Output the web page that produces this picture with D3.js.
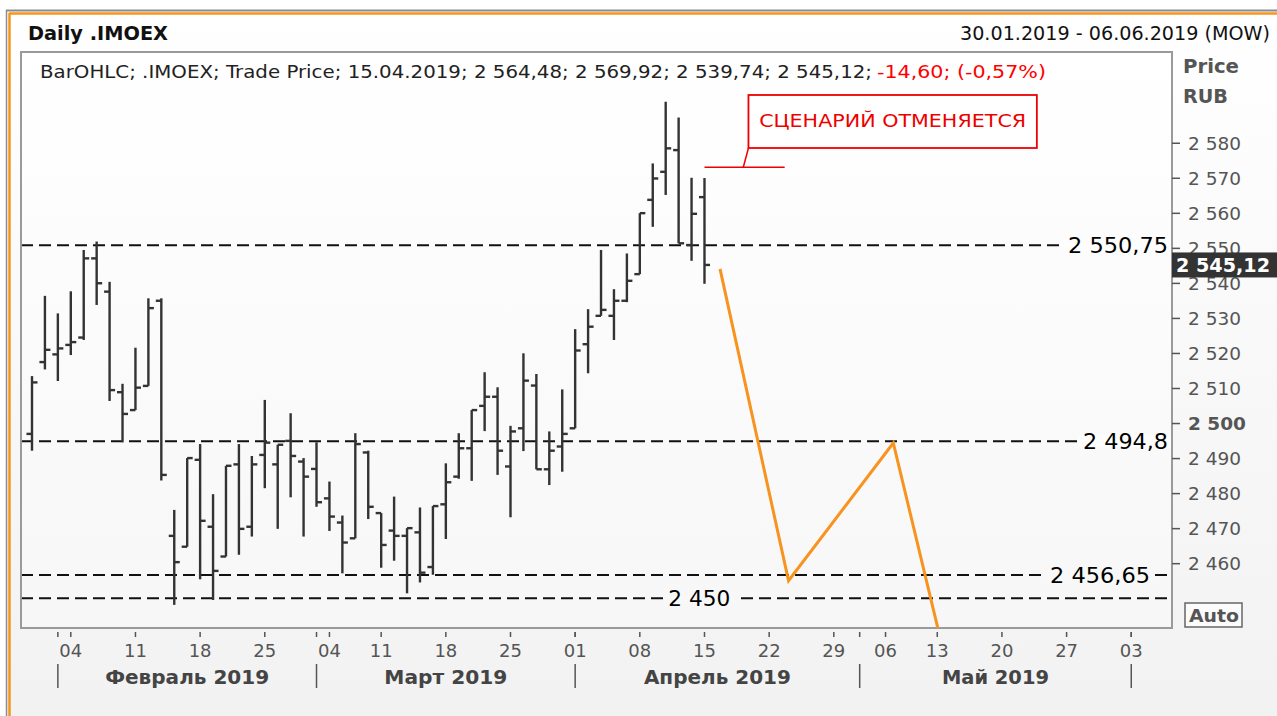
<!DOCTYPE html>
<html><head><meta charset="utf-8">
<script src="https://cdn.jsdelivr.net/npm/d3@7"></script>
<style>
html,body{margin:0;padding:0;background:#fff;}
svg{display:block;font-family:"DejaVu Sans",Verdana,sans-serif;}
</style></head><body>
<svg id="c" width="1277" height="716"></svg>
<script>
// ---------------- DATA ----------------
const barDates = ["2019-01-30","2019-01-31","2019-02-01","2019-02-04","2019-02-05","2019-02-06","2019-02-07","2019-02-08",
"2019-02-11","2019-02-12","2019-02-13","2019-02-14","2019-02-15","2019-02-18","2019-02-19","2019-02-20","2019-02-21","2019-02-22",
"2019-02-25","2019-02-26","2019-02-27","2019-02-28","2019-03-01","2019-03-04","2019-03-05","2019-03-06","2019-03-07",
"2019-03-11","2019-03-12","2019-03-13","2019-03-14","2019-03-15","2019-03-18","2019-03-19","2019-03-20","2019-03-21","2019-03-22",
"2019-03-25","2019-03-26","2019-03-27","2019-03-28","2019-03-29","2019-04-01","2019-04-02","2019-04-03","2019-04-04","2019-04-05",
"2019-04-08","2019-04-09","2019-04-10","2019-04-11","2019-04-12","2019-04-15"];
const opens  = [2496.9,2517.4,2519.6,2522.3,2524.4,2547.0,2537.5,2508.8,2503.7,2510.6,2534.9,2467.8,2464.7,2489.5,2470.4,2461.9,2488.2,2470.4,
2490.9,2488.2,2494.9,2489.0,2486.9,2478.5,2471.6,2467.1,2491.6,2474.3,2469.3,2467.8,2468.8,2458.9,2476.8,2484.7,2492.8,2504.9,2507.5,
2487.6,2498.5,2510.7,2486.8,2493.3,2498.5,2522.5,2530.6,2530.6,2534.9,2542.5,2563.7,2571.7,2577.9,2550.8,2564.48];
const highs  = [2513.4,2536.3,2531.3,2537.6,2549.4,2551.8,2540.3,2511.2,2521.5,2535.6,2535.6,2475.2,2490.0,2494.0,2479.7,2487.8,2494.0,2490.6,
2506.6,2493.8,2502.8,2490.0,2494.5,2483.3,2473.6,2497.1,2492.1,2474.3,2479.0,2470.0,2475.9,2476.3,2488.5,2497.1,2503.7,2514.5,2510.2,
2499.2,2519.9,2514.0,2497.6,2509.6,2526.8,2532.5,2549.4,2538.2,2548.4,2559.9,2574.1,2591.7,2587.2,2570.0,2569.92];
const lows   = [2492.1,2515.3,2512.0,2519.4,2523.7,2533.7,2506.3,2494.5,2503.7,2510.6,2483.6,2448.1,2464.7,2455.4,2449.5,2461.9,2462.4,2467.6,
2481.4,2469.8,2478.8,2467.6,2476.1,2469.2,2457.1,2467.1,2472.6,2458.7,2460.7,2451.4,2454.5,2456.7,2466.9,2484.1,2483.5,2497.7,2485.2,
2473.1,2492.0,2486.8,2482.3,2486.1,2498.5,2514.2,2530.6,2523.7,2534.5,2542.5,2556.0,2565.1,2551.3,2546.3,2539.74];
const closes = [2511.6,2520.9,2521.3,2523.1,2547.0,2539.9,2509.4,2502.6,2510.1,2532.8,2485.2,2460.3,2490.0,2472.1,2457.8,2487.8,2469.8,2488.2,
2494.4,2493.8,2490.6,2484.7,2477.4,2473.3,2465.9,2494.0,2476.1,2465.2,2467.8,2470.0,2457.3,2476.3,2483.1,2492.8,2503.7,2507.5,2492.1,
2497.6,2512.1,2486.8,2492.1,2496.9,2520.7,2527.5,2532.3,2534.9,2540.6,2559.9,2569.8,2578.4,2551.3,2559.72,2545.12];

const holidays = ["2019-03-08","2019-05-01","2019-05-09"];
const rangeStart = "2019-01-30", rangeEnd = "2019-06-06";

const yTickValues = [2460,2470,2480,2490,2500,2510,2520,2530,2540,2550,2560,2570,2580];
const xTickDates  = ["2019-02-04","2019-02-11","2019-02-18","2019-02-25","2019-03-04","2019-03-11","2019-03-18","2019-03-25",
"2019-04-01","2019-04-08","2019-04-15","2019-04-22","2019-04-29","2019-05-06","2019-05-13","2019-05-20","2019-05-27","2019-06-03"];
const xTickLabels = ["04","11","18","25","04","11","18","25","01","08","15","22","29","06","13","20","27","03"];
const monthStarts = ["2019-02-01","2019-03-01","2019-04-01","2019-05-02","2019-06-03"];
const monthLabels = ["Февраль 2019","Март 2019","Апрель 2019","Май 2019"];

const levelValues = [2550.75, 2494.8, 2456.65, 2450];
const levelLabels = ["2 550,75","2 494,8","2 456,65","2 450"];

// projected path (orange) : trading-day position, price
const projPos  = [53.2, 58.5, 66.6, 70.4];
const projVals = [2544.0, 2455.0, 2494.3, 2436.0];

// callout
const calloutText = "СЦЕНАРИЙ ОТМЕНЯЕТСЯ";
const calloutLevel = 2573;

const lastPrice = 2545.12;
const lastLabel = "2 545,12";
const titleText = "Daily .IMOEX";
const rangeText = "30.01.2019 - 06.06.2019 (MOW)";
const legendBlack = "BarOHLC; .IMOEX; Trade Price;  15.04.2019; 2 564,48; 2 569,92; 2 539,74; 2 545,12;";
const legendRed = "-14,60; (-0,57%)";

// ---------------- CALENDAR ----------------
const parse = d3.timeParse("%Y-%m-%d"), fmt = d3.timeFormat("%Y-%m-%d");
const hol = new Set(holidays);
const tradingDays = d3.timeDay.range(parse(rangeStart), d3.timeDay.offset(parse(rangeEnd),1))
  .filter(d => d.getDay()!==0 && d.getDay()!==6 && !hol.has(fmt(d))).map(fmt);
const idx = new Map(tradingDays.map((d,i)=>[d,i]));

// ---------------- LAYOUT ----------------
const P = {l:21, t:52, r:1172, b:628};
const x = d3.scaleLinear().domain([-0.85, tradingDays.length - 1 + 0.15]).range([P.l, P.r]);
const y = d3.scaleLinear().domain([2441.5, 2605.9]).range([P.b, P.t]);

const svg = d3.select("#c");
const defs = svg.append("defs");
const g1 = defs.append("linearGradient").attr("id","panel").attr("x1",0).attr("y1",0).attr("x2",0).attr("y2",1);
g1.append("stop").attr("offset","0%").attr("stop-color","#ffffff");
g1.append("stop").attr("offset","100%").attr("stop-color","#f2f2f2");
const g2 = defs.append("linearGradient").attr("id","plotbg").attr("x1",0).attr("y1",0).attr("x2",0).attr("y2",1);
g2.append("stop").attr("offset","0%").attr("stop-color","#ffffff");
g2.append("stop").attr("offset","100%").attr("stop-color","#f7f7f7");
defs.append("clipPath").attr("id","clip").append("rect")
  .attr("x",P.l).attr("y",P.t).attr("width",P.r-P.l).attr("height",P.b-P.t);

svg.append("rect").attr("width",1277).attr("height",716).attr("fill","#fff");
svg.append("rect").attr("x",7).attr("y",11).attr("width",1270).attr("height",705).attr("fill","url(#panel)");
// window frame
svg.append("line").attr("x1",6.5).attr("x2",6.5).attr("y1",10).attr("y2",716).attr("stroke","#8c8c8c").attr("stroke-width",1.5);
svg.append("line").attr("x1",6).attr("x2",1277).attr("y1",10.5).attr("y2",10.5).attr("stroke","#8c8c8c").attr("stroke-width",2);
svg.append("line").attr("x1",9.5).attr("x2",9.5).attr("y1",13).attr("y2",716).attr("stroke","#f7941d").attr("stroke-width",2.5);
svg.append("line").attr("x1",9).attr("x2",1277).attr("y1",13.5).attr("y2",13.5).attr("stroke","#f7941d").attr("stroke-width",2.5);

function fit(sel, w){ return sel.attr("textLength", w).attr("lengthAdjust","spacingAndGlyphs"); }

// header
fit(svg.append("text").attr("x",28).attr("y",40).attr("font-size",19).attr("font-weight","bold").attr("fill","#111").text(titleText),140);
fit(svg.append("text").attr("x",960).attr("y",40).attr("font-size",19).attr("fill","#111").text(rangeText),310);

// plot background
svg.append("rect").attr("x",P.l).attr("y",P.t).attr("width",P.r-P.l).attr("height",P.b-P.t)
  .attr("fill","url(#plotbg)");

// legend
fit(svg.append("text").attr("x",40).attr("y",78).attr("font-size",18.5).attr("fill","#222").text(legendBlack),832);
fit(svg.append("text").attr("x",877).attr("y",78).attr("font-size",18.5).attr("fill","#f00").text(legendRed),169);

// level lines
const plot = svg.append("g").attr("clip-path","url(#clip)");
plot.selectAll("line.lvl").data(levelValues).join("line").attr("class","lvl")
  .attr("x1",P.l).attr("x2",P.r).attr("y1",d=>y(d)).attr("y2",d=>y(d))
  .attr("stroke","#111").attr("stroke-width",2).attr("stroke-dasharray","12,6");

// OHLC bars
const bars = barDates.map((d,i)=>({d, o:opens[i], h:highs[i], l:lows[i], c:closes[i]}));
const bg = plot.append("g").attr("stroke","#333").attr("stroke-width",2.4);
bg.selectAll("line.hl").data(bars).join("line").attr("class","hl")
  .attr("x1",d=>x(idx.get(d.d))).attr("x2",d=>x(idx.get(d.d)))
  .attr("y1",d=>y(d.h)).attr("y2",d=>y(d.l));
bg.selectAll("line.o").data(bars).join("line").attr("class","o")
  .attr("x1",d=>x(idx.get(d.d))-5.5).attr("x2",d=>x(idx.get(d.d)))
  .attr("y1",d=>y(d.o)).attr("y2",d=>y(d.o));
bg.selectAll("line.c").data(bars).join("line").attr("class","c")
  .attr("x1",d=>x(idx.get(d.d))).attr("x2",d=>x(idx.get(d.d))+5.5)
  .attr("y1",d=>y(d.c)).attr("y2",d=>y(d.c));

// level labels
const lblPlace = [{at:P.r-4, w:100},{at:P.r-4, w:85},{at:P.r-22, w:100},{at:x(51.6)+31, w:62}];
levelValues.forEach((v,i)=>{
  const x0 = lblPlace[i].at - lblPlace[i].w;
  svg.append("rect").attr("x",x0-5).attr("y",y(v)-6).attr("width",lblPlace[i].w+10).attr("height",12)
    .attr("fill", i<2 ? "#fdfdfd" : "#f8f8f8");
  fit(svg.append("text").attr("font-size",22).attr("fill","#000")
    .attr("x",x0).attr("y",y(v)+8).text(levelLabels[i]), lblPlace[i].w);
});

// plot frame
svg.append("rect").attr("x",P.l).attr("y",P.t).attr("width",P.r-P.l).attr("height",P.b-P.t)
  .attr("fill","none").attr("stroke","#9a9a9a").attr("stroke-width",2);

// projection
svg.append("g").attr("clip-path","url(#clip)").append("path")
  .datum(projPos.map((p,i)=>[p,projVals[i]]))
  .attr("d", d3.line().x(d=>x(d[0])).y(d=>y(d[1])))
  .attr("fill","none").attr("stroke","#f7931e").attr("stroke-width",3).attr("stroke-linejoin","miter");

// callout
const cy = y(calloutLevel);
svg.append("line").attr("x1",x(52)).attr("x2",x(58.2)).attr("y1",cy).attr("y2",cy).attr("stroke","#e00").attr("stroke-width",1.5);
const boxL = x(55.4), boxR = x(77.7), boxT = 95, boxB = 148;
svg.append("line").attr("x1",x(55.0)).attr("y1",cy).attr("x2",boxL).attr("y2",boxB).attr("stroke","#e00").attr("stroke-width",1.5);
svg.append("rect").attr("x",boxL).attr("y",boxT).attr("width",boxR-boxL).attr("height",boxB-boxT)
  .attr("fill","#fff").attr("stroke","#e00").attr("stroke-width",1.8);
fit(svg.append("text").attr("x",(boxL+boxR)/2 - 133.5).attr("y",127).attr("font-size",18).attr("fill","#e00").text(calloutText),267);

// y axis
const nf = d3.formatLocale({decimal:",", thousands:"\u00a0", grouping:[3], currency:["",""]}).format(",");
const yAxis = svg.append("g").attr("transform",`translate(${P.r},0)`)
  .call(d3.axisRight(y).tickValues(yTickValues).tickSize(8).tickPadding(8).tickFormat(nf));
yAxis.select(".domain").remove();
yAxis.selectAll(".tick line").attr("stroke","#555").attr("stroke-width",1.5);
yAxis.selectAll(".tick text").attr("font-family","DejaVu Sans, Verdana, sans-serif").attr("font-size",18.5)
  .attr("fill","#555").attr("dy","0.35em")
  .attr("font-weight",d=>d===2500?"bold":"normal");

fit(svg.append("text").attr("x",1183).attr("y",73).attr("font-size",19).attr("font-weight","bold").attr("fill","#555").text("Price"),56);
fit(svg.append("text").attr("x",1183).attr("y",103).attr("font-size",19).attr("font-weight","bold").attr("fill","#555").text("RUB"),45);

// last price tag
svg.append("rect").attr("x",P.r).attr("y",y(lastPrice)-12.5).attr("width",1277-P.r).attr("height",25).attr("fill","#333");
fit(svg.append("text").attr("x",P.r+4).attr("y",y(lastPrice)+7).attr("font-size",19).attr("font-weight","bold")
  .attr("fill","#fff").text(lastLabel),94);

// Auto box
svg.append("rect").attr("x",1185).attr("y",603).attr("width",57).attr("height",24).attr("fill","#fbfbfb").attr("stroke","#666").attr("stroke-width",1.5);
fit(svg.append("text").attr("x",1189).attr("y",622).attr("font-size",18).attr("font-weight","bold").attr("fill","#555").text("Auto"),50);

// x axis
const xa = svg.append("g");
const tickPos = xTickDates.map(d=>x(idx.get(d)));
xa.selectAll("line.xt").data(tickPos.concat(monthStarts.map(d=>x(idx.get(d))))).join("line").attr("class","xt")
  .attr("x1",d=>d).attr("x2",d=>d).attr("y1",632).attr("y2",637).attr("stroke","#555").attr("stroke-width",1.5);
xa.selectAll("text.xl").data(xTickLabels).join("text").attr("class","xl")
  .attr("x",(d,i)=>tickPos[i]).attr("y",657).attr("text-anchor","middle").attr("font-size",18).attr("fill","#555").text(d=>d);
const msPos = monthStarts.map(d=>x(idx.get(d)));
xa.selectAll("line.ms").data(msPos).join("line").attr("class","ms")
  .attr("x1",d=>d).attr("x2",d=>d).attr("y1",664).attr("y2",688).attr("stroke","#555").attr("stroke-width",1.5);
const monthW = [164,123,147,107];
xa.selectAll("text.ml").data(monthLabels).join("text").attr("class","ml")
  .attr("x",(d,i)=>(msPos[i]+msPos[i+1])/2 - monthW[i]/2).attr("y",684)
  .attr("textLength",(d,i)=>monthW[i]).attr("lengthAdjust","spacingAndGlyphs")
  .attr("font-size",19.5).attr("font-weight","bold").attr("fill","#444").text(d=>d);
</script>
</body></html>
